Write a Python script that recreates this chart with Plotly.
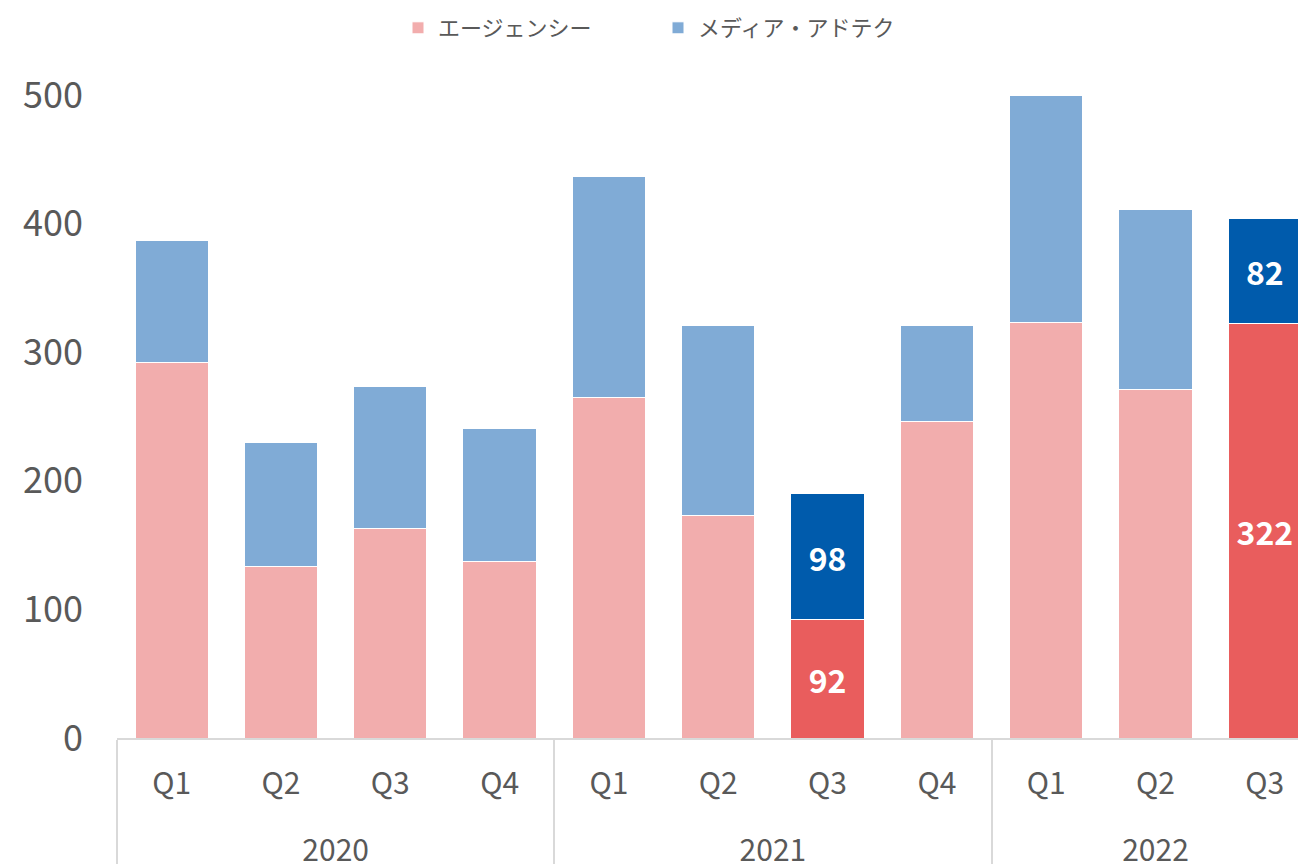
import plotly.graph_objects as go

years = ["2020"] * 4 + ["2021"] * 4 + ["2022"] * 3
quarters = ["Q1", "Q2", "Q3", "Q4", "Q1", "Q2", "Q3", "Q4", "Q1", "Q2", "Q3"]
agency = [292, 133, 163, 137, 265, 173, 92, 246, 323, 271, 322]
media = [95, 97, 110, 104, 172, 148, 98, 75, 177, 140, 82]
highlight = [False, False, False, False, False, False, True, False, False, False, True]

AG_LIGHT, AG_DARK = "#F2ADAD", "#E95D5D"
MD_LIGHT, MD_DARK = "#80ABD6", "#005BAC"

ag_colors = [AG_DARK if h else AG_LIGHT for h in highlight]
md_colors = [MD_DARK if h else MD_LIGHT for h in highlight]
ag_text = [str(v) if h else "" for v, h in zip(agency, highlight)]
md_text = [str(v) if h else "" for v, h in zip(media, highlight)]

# year level pushed one line lower (leading line break) to match the reference spacing
x_cats = [["<br>" + y for y in years], quarters]

FONT = "Noto Sans CJK JP"
GRAY = "#595959"

fig = go.Figure()
fig.add_trace(go.Bar(
    x=x_cats, y=agency, name="エージェンシー",
    marker=dict(color=ag_colors, line=dict(color="white", width=1)),
    text=ag_text, textposition="inside", insidetextanchor="middle",
    textfont=dict(family=FONT, size=32, color="white", weight="bold"),
    constraintext="none", hoverinfo="skip",
))
fig.add_trace(go.Bar(
    x=x_cats, y=media, name="メディア・アドテク",
    marker=dict(color=md_colors, line=dict(color="white", width=1)),
    text=md_text, textposition="inside", insidetextanchor="middle",
    textfont=dict(family=FONT, size=32, color="white", weight="bold"),
    constraintext="none", hoverinfo="skip",
))

fig.update_layout(
    width=1306, height=864,
    barmode="stack", bargap=0.33,
    plot_bgcolor="white", paper_bgcolor="white",
    margin=dict(l=109, r=0, t=87, b=134, autoexpand=False),
    font=dict(family=FONT, color=GRAY),
    showlegend=True,
    legend=dict(
        orientation="h", xref="container", yref="container",
        x=390 / 1306, xanchor="left", y=1 - 20 / 864, yanchor="middle",
        font=dict(size=22, color=GRAY, family=FONT),
        entrywidth=215, traceorder="normal",
    ),
    uniformtext=dict(mode=False),
)

fig.update_xaxes(
    type="multicategory", range=[-0.5, 10.45],
    showline=True, linecolor="#D9D9D9", linewidth=2,
    showdividers=True, dividercolor="#D9D9D9", dividerwidth=2,
    tickfont=dict(size=30, color=GRAY, family=FONT),
    ticklabelstandoff=18,
    showgrid=False, ticks="",
)
fig.update_yaxes(
    range=[0, 500], tickvals=[0, 100, 200, 300, 400, 500],
    showgrid=False, zeroline=False, showline=False, ticks="",
    tickfont=dict(size=36, color=GRAY, family=FONT),
    ticklabelstandoff=33,
)

fig.write_html("out.html")
